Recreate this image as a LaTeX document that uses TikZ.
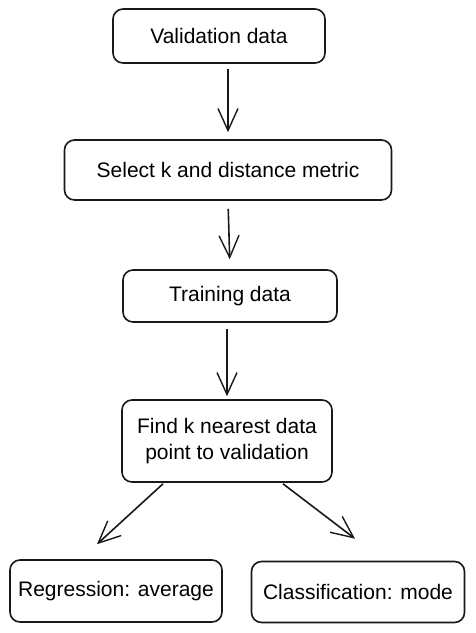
\documentclass[tikz,border=0pt]{standalone}
\usepackage{fontspec}
\setmainfont{Liberation Sans}
\usetikzlibrary{arrows.meta}
\begin{document}
\begin{tikzpicture}[x=1pt,y=-1pt,
  box/.style={draw=black!90, line width=1.6pt, rounded corners=10pt, fill=white,
    inner sep=0pt, align=center, font=\fontsize{21}{26}\selectfont},
  conn/.style={draw=black!90, line width=1.6pt,
    -{Straight Barb[length=22pt,width=20pt,line width=1.4pt]}}]
\useasboundingbox[fill=white] (0,0) rectangle (475,633);
\node[box, minimum width=212pt, minimum height=54pt] (v) at (219,36) {Validation data};
\node[box, minimum width=327pt, minimum height=60pt] (s) at (228,170) {Select k and distance metric};
\node[box, minimum width=214pt, minimum height=52pt] (t) at (230,296) {Training data};
\node[box, minimum width=210pt, minimum height=82pt] (f) at (227,441) {Find k nearest data\\point to validation};
\node[box, minimum width=212pt, minimum height=62pt] (r) at (116,591) {Regression: average};
\node[box, minimum width=213pt, minimum height=61pt] (c) at (358,592) {Classification: mode};
\draw[conn, shorten <=5pt, shorten >=7pt] (v.south -| s.north) -- (s.north);
\draw[conn, shorten <=8pt, shorten >=10pt] (s.south) -- (t.north);
\draw[conn, shorten <=6pt, shorten >=3pt] (t.south -| f.north) -- (f.north);
\draw[conn] ([xshift=-64pt,yshift=-1pt]f.south) -- ([xshift=-19pt,yshift=15pt]r.north);
\draw[conn] ([xshift=56pt,yshift=-1pt]f.south) -- ([xshift=-3pt,yshift=22pt]c.north);
\end{tikzpicture}
\end{document}
